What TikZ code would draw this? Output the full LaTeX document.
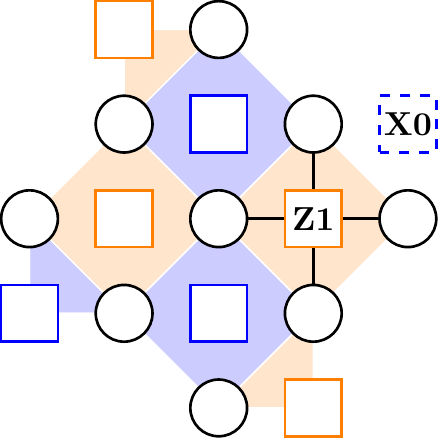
\documentclass[tikz,border=0pt]{standalone}
\begin{document}
\begin{tikzpicture}[
  data/.style={circle,draw=black,thick,fill=white,minimum size=0.6cm,inner sep=0pt},
  zanc/.style={rectangle,draw=orange,thick,fill=white,minimum size=0.6cm,inner sep=0pt,font=\bfseries},
  xanc/.style={rectangle,draw=blue,thick,fill=white,minimum size=0.6cm,inner sep=0pt,font=\bfseries},
  xplaq/.style={fill=blue!20,draw=white,line width=0.4pt},
  zplaq/.style={fill=orange!20,draw=white,line width=0.4pt},
  link/.style={draw=black,thick}
]
\useasboundingbox (-0.312,-0.317) rectangle (4.371,4.312);
% plaquettes
\fill[xplaq] (2,4) -- (1,3) -- (2,2) -- (3,3) -- cycle;
\fill[xplaq] (2,2) -- (1,1) -- (2,0) -- (3,1) -- cycle;
\fill[xplaq] (0,2) -- (0,1) -- (1,1) -- cycle;
\fill[zplaq] (1,3) -- (0,2) -- (1,1) -- (2,2) -- cycle;
\fill[zplaq] (3,3) -- (2,2) -- (3,1) -- (4,2) -- cycle;
\fill[zplaq] (1,4) -- (2,4) -- (1,3) -- cycle;
\fill[zplaq] (2,0) -- (3,0) -- (3,1) -- cycle;
\draw[draw=white,line width=0.4pt] (2,4) -- (1,3) -- (2,2) -- (3,3) -- cycle
  (2,2) -- (1,1) -- (2,0) -- (3,1) -- cycle
  (0,2) -- (0,1) -- (1,1) -- cycle;
% data qubits
\node[data] (d1) at (2,4) {};
\node[data] (d2) at (1,3) {};
\node[data] (d3) at (3,3) {};
\node[data] (d4) at (0,2) {};
\node[data] (d5) at (2,2) {};
\node[data] (d6) at (4,2) {};
\node[data] (d7) at (1,1) {};
\node[data] (d8) at (3,1) {};
\node[data] (d9) at (2,0) {};
% ancillas
\node[zanc] (z0) at (1,4) {};
\node[xanc] (x1) at (2,3) {};
\node[zanc] (z2) at (1,2) {};
\node[xanc] (x3) at (0,1) {};
\node[xanc] (x4) at (2,1) {};
\node[zanc] (z5) at (3,0) {};
\node[xanc,dashed] (x0) at (4,3) {X0};
\node[zanc] (z1) at (3,2) {Z1};
% Z1 links
\draw[link] (z1) -- (d3);
\draw[link] (z1) -- (d5);
\draw[link] (z1) -- (d6);
\draw[link] (z1) -- (d8);
\end{tikzpicture}
\end{document}
